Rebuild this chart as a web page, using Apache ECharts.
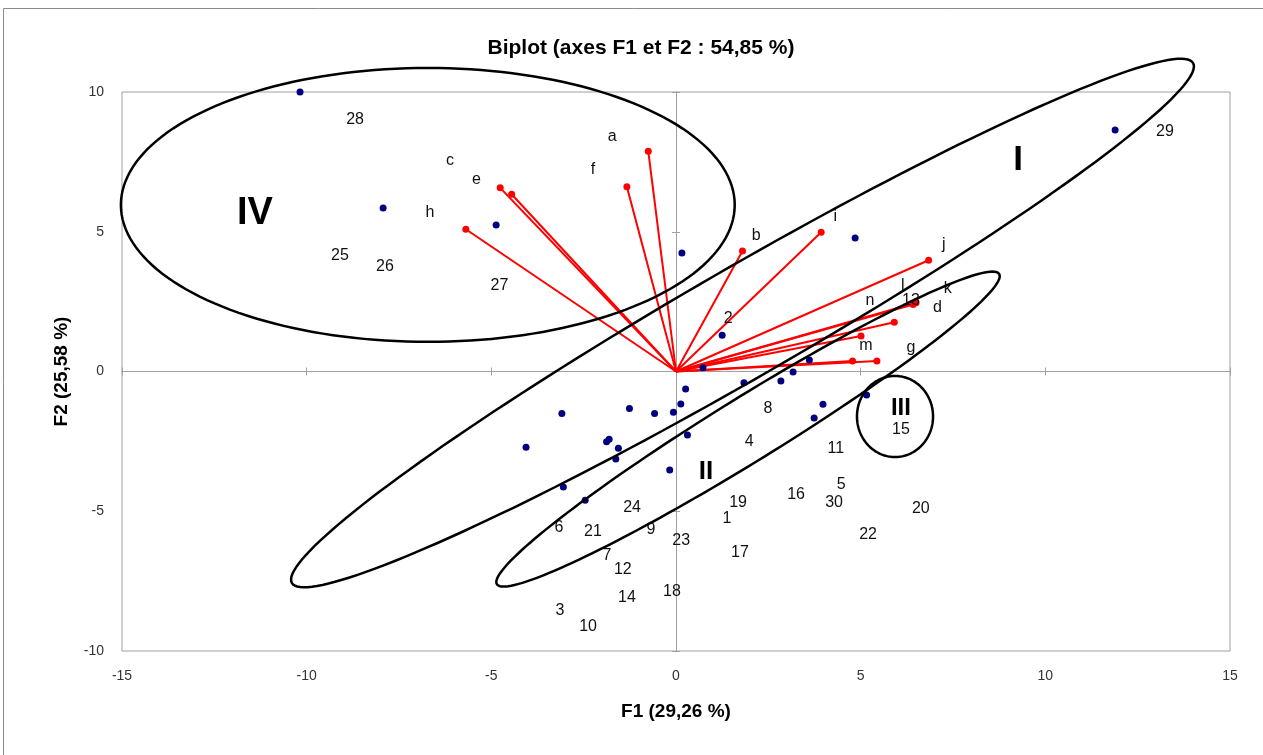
<!DOCTYPE html>
<html><head><meta charset="utf-8">
<script src="https://cdn.jsdelivr.net/npm/echarts@6/dist/echarts.min.js"></script>
<style>html,body{margin:0;padding:0;background:#fff}#c{width:1263px;height:755px}</style>
</head><body><div id="c"></div>
<script>
// Observations (blue points)
const obsX = [-10.18, -7.93, -4.87, 0.16, 1.25, 0.73, 4.85, 11.89, 3.61, 3.17, 2.84, 1.84, 0.26, 0.13, 3.98, 3.74, 5.16, 0.31, -0.17, -0.07, -0.58, -1.26, -3.09, -4.06, -1.81, -1.88, -1.56, -1.63, -3.05, -2.46];
const obsY = [10.0, 5.85, 5.24, 4.24, 1.30, 0.13, 4.78, 8.64, 0.41, -0.02, -0.34, -0.40, -0.63, -1.16, -1.17, -1.66, -0.84, -2.27, -3.52, -1.46, -1.50, -1.32, -1.50, -2.71, -2.42, -2.51, -2.75, -3.13, -4.13, -4.61];
// Observation labels (as placed in the picture)
const obsLabNames = ['28','25','26','27','29','2','8','4','11','15','5','16','30','20','19','1','22','17','23','18','24','9','6','21','7','12','14','3','10','13'];
const obsLabX = [-8.69, -9.10, -7.88, -4.78, 13.24, 1.41, 2.49, 1.98, 4.33, 6.09, 4.47, 3.25, 4.28, 6.63, 1.68, 1.38, 5.20, 1.73, 0.14, -0.11, -1.19, -0.68, -3.17, -2.25, -1.87, -1.44, -1.33, -3.14, -2.38, 6.36];
const obsLabY = [9.00, 4.13, 3.74, 3.06, 8.60, 1.91, -1.31, -2.49, -2.77, -2.09, -4.03, -4.42, -4.70, -4.92, -4.70, -5.28, -5.85, -6.49, -6.06, -7.89, -4.88, -5.67, -5.60, -5.74, -6.60, -7.07, -8.10, -8.57, -9.14, 2.53];
// Variables (red vectors)
const varNames = ['a','f','e','c','h','b','i','j','k','l','d','n','m','g'];
const varX = [-0.75, -1.33, -4.76, -4.45, -5.69, 1.80, 3.93, 6.84, 6.50, 6.42, 5.91, 5.01, 4.78, 5.44];
const varY = [7.88, 6.61, 6.57, 6.34, 5.09, 4.31, 4.98, 3.98, 2.46, 2.40, 1.76, 1.27, 0.38, 0.38];
const varLabX = [-1.73, -2.25, -5.40, -6.12, -6.66, 2.17, 4.31, 7.25, 7.36, 6.14, 7.08, 5.25, 5.14, 6.36];
const varLabY = [8.39, 7.24, 6.85, 7.53, 5.67, 4.86, 5.54, 4.53, 2.95, 3.07, 2.30, 2.53, 0.91, 0.87];
// Group annotations (ellipses): centre, half-axis vectors in data units
const groupNames = ['IV','I','II','III'];
const groupLabX = [-11.40, 9.26, 0.81, 6.09];
const groupLabY = [5.67, 7.57, -3.60, -1.31];
const ellCX = [-6.72, 1.80, 1.95, 5.93];
const ellCY = [5.96, 1.735, -2.06, -1.61];
const ellUX = [8.31, 12.20, 6.80, 1.03];
const ellUY = [0, 9.30, 5.55, 0];
const ellVX = [0, 0.745, 0.455, 0];
const ellVY = [4.90, -1.70, -0.975, 1.45];
// Axes
const xMin = -15, xMax = 15, yMin = -10, yMax = 10, tickStep = 5;

const chart = echarts.init(document.getElementById('c'));
const G = {left:122, right:33, top:92, bottom:104};
const font = 'Liberation Sans, Arial, sans-serif';
const labelFont = {fontFamily: font, fontSize: 16, color: '#111'};
const groupSize = [38, 35, 26, 24];

function zeroAxis(dim, grid, inside){
  return {type:'value', gridIndex:grid, min: dim==='x'?xMin:yMin, max: dim==='x'?xMax:yMax, interval:tickStep,
    axisLine:{show:true, onZero:true, lineStyle:{color:'#a0a0a0', width:1}},
    axisTick:{show:true, inside:inside, length:4, lineStyle:{color:'#a0a0a0'}},
    axisLabel:{show:false}, splitLine:{show:false}};
}

chart.setOption({
  animation:false,
  backgroundColor:'#fff',
  title:{text:'Biplot (axes F1 et F2 : 54,85 %)', left:636, top:33, textAlign:'center',
    textStyle:{fontFamily:font, fontWeight:'bold', fontSize:21, color:'#000'}},
  graphic:[{type:'rect', shape:{x:3.5, y:8.5, width:1300, height:800}, style:{fill:'none', stroke:'#8a8a8a', lineWidth:1}, silent:true, z:-10}],
  grid:[Object.assign({show:true, borderColor:'#a0a0a0', borderWidth:1}, G), Object.assign({}, G), Object.assign({}, G)],
  xAxis:[
    {type:'value', gridIndex:0, min:xMin, max:xMax, interval:tickStep, position:'bottom',
     axisLine:{show:false, onZero:false}, axisTick:{show:false}, splitLine:{show:false},
     axisLabel:{margin:18, fontFamily:font, fontSize:14, color:'#333'},
     name:'F1 (29,26 %)', nameLocation:'middle', nameGap:51,
     nameTextStyle:{fontFamily:font, fontWeight:'bold', fontSize:19, color:'#000'}},
    zeroAxis('x',1,false), zeroAxis('x',2,true)
  ],
  yAxis:[
    {type:'value', gridIndex:0, min:yMin, max:yMax, interval:tickStep, position:'left',
     axisLine:{show:false, onZero:false}, axisTick:{show:false}, splitLine:{show:false},
     axisLabel:{margin:18, fontFamily:font, fontSize:14, color:'#333'},
     name:'F2 (25,58 %)', nameLocation:'middle', nameGap:51, nameRotate:90,
     nameTextStyle:{fontFamily:font, fontWeight:'bold', fontSize:19, color:'#000'}},
    zeroAxis('y',1,false), zeroAxis('y',2,true)
  ],
  series:[
    {type:'lines', coordinateSystem:'cartesian2d', xAxisIndex:0, yAxisIndex:0, silent:true, z:3,
     lineStyle:{color:'#ff0000', width:2, opacity:1},
     data: varX.map((x,i)=>({coords:[[0,0],[x,varY[i]]]}))},
    {type:'scatter', xAxisIndex:0, yAxisIndex:0, symbolSize:7, silent:true, z:4,
     itemStyle:{color:'#ff0000', opacity:1}, data: varX.map((x,i)=>[x,varY[i]])},
    {type:'scatter', xAxisIndex:0, yAxisIndex:0, symbolSize:7, silent:true, z:5,
     itemStyle:{color:'#000080', opacity:1}, data: obsX.map((x,i)=>[x,obsY[i]])},
    {type:'scatter', xAxisIndex:0, yAxisIndex:0, symbolSize:1, silent:true, z:6,
     itemStyle:{color:'rgba(0,0,0,0)', opacity:1},
     label:Object.assign({show:true, position:'inside', formatter:p=>p.name}, labelFont),
     data: obsLabNames.map((n,i)=>({name:n, value:[obsLabX[i], obsLabY[i]]}))},
    {type:'scatter', xAxisIndex:0, yAxisIndex:0, symbolSize:1, silent:true, z:6,
     itemStyle:{color:'rgba(0,0,0,0)', opacity:1},
     label:Object.assign({show:true, position:'inside', formatter:p=>p.name}, labelFont),
     data: varNames.map((n,i)=>({name:n, value:[varLabX[i], varLabY[i]]}))},
    {type:'custom', xAxisIndex:0, yAxisIndex:0, silent:true, clip:false, z:7,
     data: ellCX.map((x,i)=>[x, ellCY[i], i]),
     renderItem:function(params, api){
       const i = params.dataIndex;
       const pts = [];
       for (let k=0;k<=180;k++){
         const t = k/180*2*Math.PI;
         const x = ellCX[i] + Math.cos(t)*ellUX[i] + Math.sin(t)*ellVX[i];
         const y = ellCY[i] + Math.cos(t)*ellUY[i] + Math.sin(t)*ellVY[i];
         pts.push(api.coord([x,y]));
       }
       return {type:'polygon', shape:{points:pts}, style:{fill:'none', stroke:'#000', lineWidth:2.5}};
     }},
    {type:'scatter', xAxisIndex:0, yAxisIndex:0, symbolSize:1, silent:true, z:8,
     itemStyle:{color:'rgba(0,0,0,0)', opacity:1},
     label:{show:true, position:'inside', formatter:p=>p.name, fontFamily:font, fontWeight:'bold', color:'#000', fontSize:26},
     data: groupNames.map((n,i)=>({name:n, value:[groupLabX[i], groupLabY[i]],
       label:{fontSize: groupSize[i]}}))}
  ]
});
</script>
</body></html>
